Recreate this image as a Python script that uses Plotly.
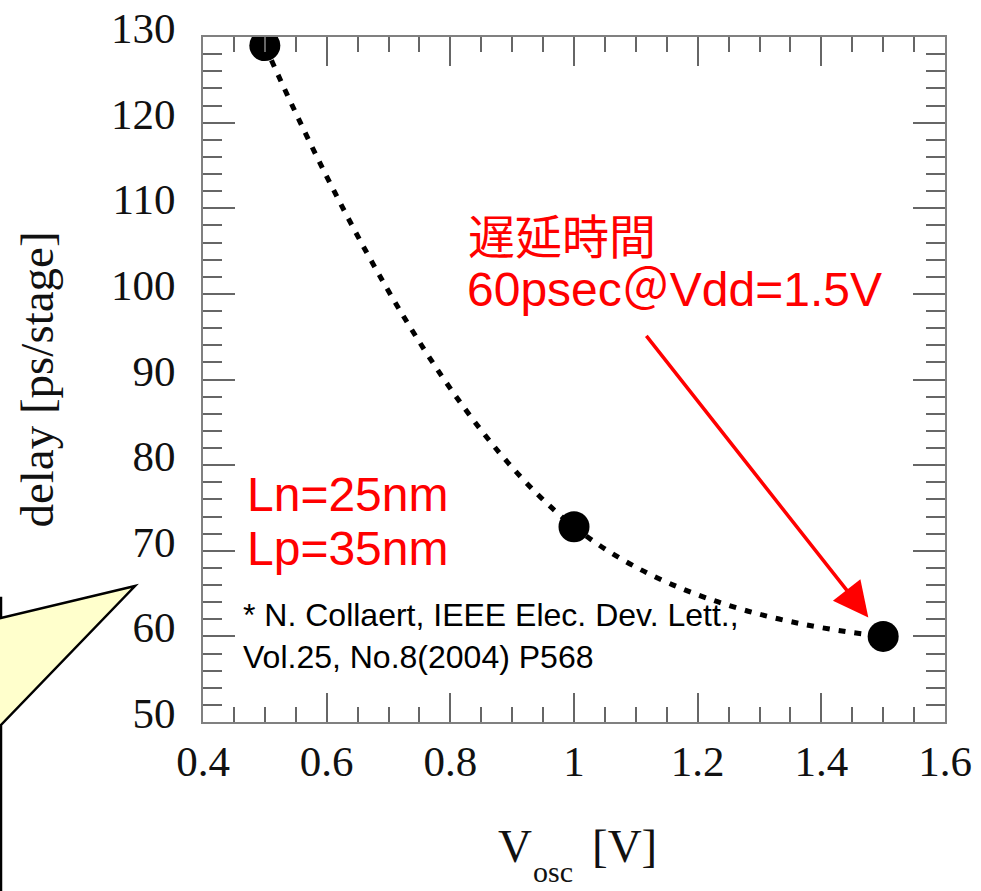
import plotly.graph_objects as go

# Ring-oscillator delay per stage versus oscillation voltage
v_osc = [0.5, 1.0, 1.5]
delay_ps = [129.0, 72.8, 60.0]

x_tick_vals = [0.4, 0.6, 0.8, 1.0, 1.2, 1.4, 1.6]
x_tick_text = ["0.4", "0.6", "0.8", "1", "1.2", "1.4", "1.6"]
y_tick_vals = [50, 60, 70, 80, 90, 100, 110, 120, 130]
y_tick_text = ["50", "60", "70", "80", "90", "100", "110", "120", "130"]

W, H = 981, 891
ML, MR, MT, MB = 203, 36, 37, 169
PW, PH = W - ML - MR, H - MT - MB


def px(x):
    return (x - ML) / PW


def py(y):
    return (H - MB - y) / PH


SERIF = "Liberation Serif, Times New Roman, serif"
SANS = "Liberation Sans, Arial, sans-serif"
RED = "#ff0000"
AXIS = "#808080"

fig = go.Figure()
fig.add_trace(go.Scatter(
    x=v_osc, y=delay_ps,
    mode="lines+markers",
    line=dict(color="black", width=5, dash="7px,9px", shape="spline", smoothing=1.2),
    marker=dict(color="black", size=31),
    showlegend=False,
    hoverinfo="skip",
))

common_axis = dict(
    showline=True, linecolor=AXIS, linewidth=2, mirror="ticks",
    ticks="inside", tickcolor="#666", tickwidth=1.5,
    showgrid=False, zeroline=False, automargin=False,
    tickfont=dict(family=SERIF, size=43, color="#111"),
)

fig.update_xaxes(
    range=[0.4, 1.6], tickmode="array", tickvals=x_tick_vals, ticktext=x_tick_text,
    ticklen=29,
    minor=dict(dtick=0.05, ticks="inside", ticklen=15, tickcolor="#666", tickwidth=1.5),
    **common_axis,
)
fig.update_yaxes(
    range=[50, 130], tickmode="array", tickvals=y_tick_vals, ticktext=y_tick_text,
    ticklen=32, ticklabelshift=-9, ticklabelstandoff=17,
    minor=dict(dtick=2, ticks="inside", ticklen=19, tickcolor="#666", tickwidth=1.5),
    title=dict(text="delay [ps/stage]", font=dict(family=SERIF, size=47, color="#111"), standoff=42),
    **common_axis,
)

# Speech-bubble callout entering from the left edge
bubble = [(-60, 598), (1, 598), (1, 618), (135, 586), (1, 725), (1, 960), (-60, 960)]
path = "M " + " L ".join(f"{px(x):.5f},{py(y):.5f}" for x, y in bubble) + " Z"
fig.add_shape(type="path", xref="paper", yref="paper", path=path,
              fillcolor="#ffffcc", line=dict(color="black", width=2.5), layer="above")


def label(text, x, y, size, color, family=SANS, anchor="middle"):
    fig.add_annotation(text=text, xref="paper", yref="paper", x=px(x), y=py(y),
                       xanchor="left", yanchor=anchor, showarrow=False,
                       font=dict(family=family, size=size, color=color))


# x-axis title: V with a dropped "osc" subscript, then the unit
label("V", 496, 846, 47, "#111", family=SERIF)
label("osc", 531, 871, 30, "#111", family=SERIF)
label("[V]", 590, 846, 47, "#111", family=SERIF)

label("遅延時間", 466, 234, 47, RED, family="Noto Sans CJK JP, sans-serif")
label("60psec＠Vdd=1.5V", 465, 289, 48, RED, family="Liberation Sans, Noto Sans CJK JP, sans-serif")
label("Ln=25nm", 245, 494, 48, RED)
label("Lp=35nm", 245, 548, 48, RED)
label("* N. Collaert, IEEE Elec. Dev. Lett.,", 241, 615, 32, "black")
label("Vol.25, No.8(2004) P568", 241, 657, 32, "black")

# Arrow pointing at the 1.5 V point
fig.add_annotation(x=v_osc[2], y=delay_ps[2], xref="x", yref="y", text="",
                   showarrow=True, axref="pixel", ayref="pixel", ax=-238, ay=-302,
                   arrowhead=2, arrowsize=2.0, arrowwidth=3.5, arrowcolor=RED, standoff=24)

fig.update_layout(
    width=W, height=H, autosize=False,
    margin=dict(l=ML, r=MR, t=MT, b=MB, pad=0),
    plot_bgcolor="white", paper_bgcolor="white",
)

fig.write_html("out.html")
